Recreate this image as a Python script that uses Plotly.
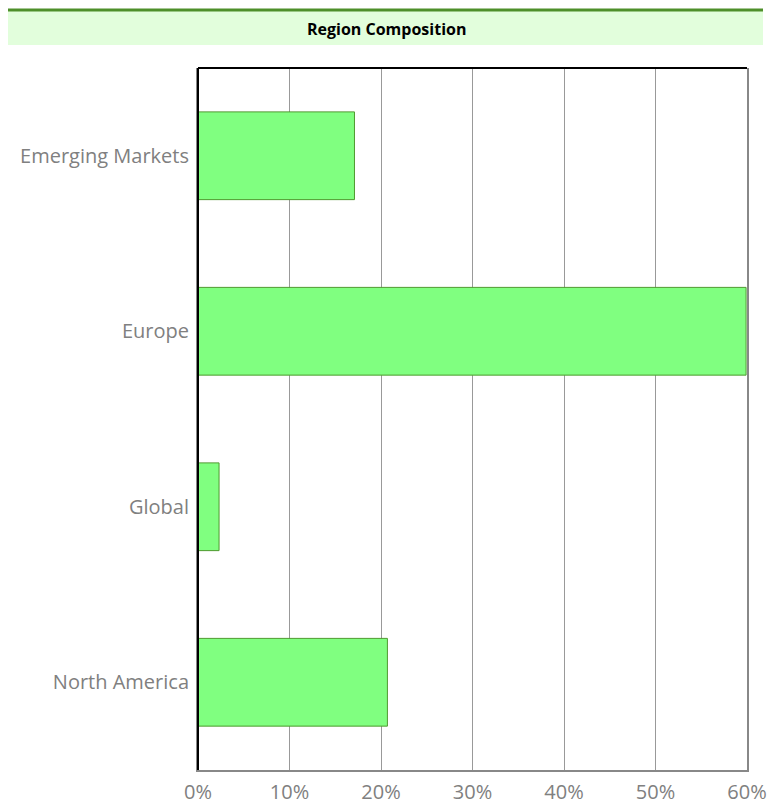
import plotly.graph_objects as go

categories = ["Emerging Markets", "Europe", "Global", "North America"]
values = [17.1, 59.9, 2.3, 20.7]
tick_vals = [0, 10, 20, 30, 40, 50, 60]
tick_text = ["0%", "10%", "20%", "30%", "40%", "50%", "60%"]

W, H = 772, 806
L, R, T, B = 198, 25, 68, 36
pw, ph = W - L - R, H - T - B

def px(x):
    return (x - L) / pw

def py(y):
    return 1 - (y - T) / ph

fig = go.Figure(go.Bar(
    y=categories, x=values, orientation="h",
    marker=dict(color="#80ff80", line=dict(color="#4f9a2f", width=1)),
    width=0.5,
))

fig.update_layout(
    width=W, height=H,
    margin=dict(l=L, r=R, t=T, b=B, autoexpand=False),
    paper_bgcolor="white", plot_bgcolor="white",
    showlegend=False,
    font=dict(family="Open Sans", color="#808080"),
    shapes=[
        dict(type="rect", xref="paper", yref="paper", x0=px(8), x1=px(763),
             y0=py(45), y1=py(10), fillcolor="#e2fedc", line=dict(width=0), layer="below"),
        dict(type="line", xref="paper", yref="paper", x0=px(8), x1=px(763),
             y0=py(10), y1=py(10), line=dict(color="#4e8f2a", width=3)),
        dict(type="line", xref="paper", yref="paper", x0=0, x1=1,
             y0=1, y1=1, line=dict(color="black", width=2)),
        dict(type="line", xref="paper", yref="paper", x0=0, x1=0,
             y0=0, y1=1, line=dict(color="black", width=2)),
    ],
    annotations=[dict(text="<b>Region Composition</b>", xref="paper", yref="paper",
                      x=px(386), y=py(29),
                      showarrow=False, font=dict(size=16, color="black", family="Open Sans"),
                      xanchor="center", yanchor="middle")],
)

fig.update_xaxes(range=[0, 60], tickvals=tick_vals, ticktext=tick_text,
                 showgrid=True, gridcolor="#999999", gridwidth=1,
                 showline=True, linecolor="#888888", linewidth=2, mirror=False,
                 tickfont=dict(size=20, color="#808080"), ticks="", zeroline=False,
                 ticklabelstandoff=3, automargin=False, ticklabeloverflow="allow")
fig.update_yaxes(categoryorder="array", categoryarray=categories[::-1],
                 showline=True, linecolor="#888888", linewidth=2, mirror=True,
                 tickfont=dict(size=20, color="#808080"), ticks="",
                 showgrid=False, ticklabelstandoff=3, automargin=False)

fig.write_html("out.html", config={"displayModeBar": False},
               post_script="document.body.style.margin='0';document.body.style.overflow='hidden';")
